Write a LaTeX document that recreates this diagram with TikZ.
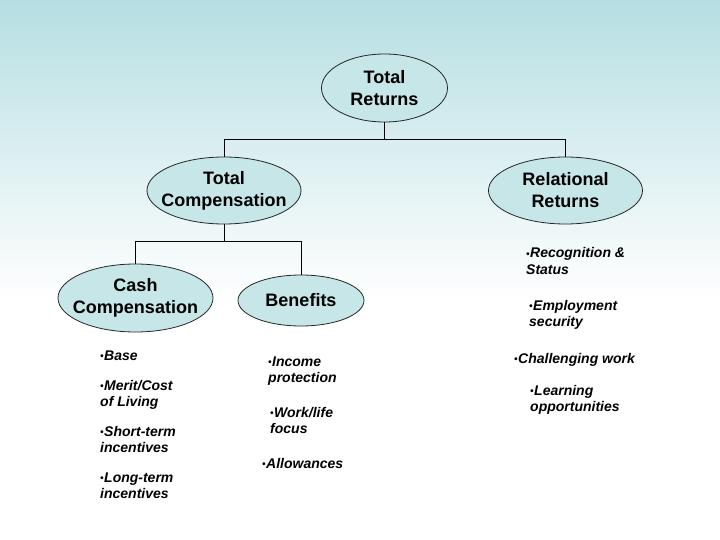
\documentclass[tikz,border=0pt]{standalone}
\usepackage{fontspec}
\setmainfont{Liberation Sans}
\usetikzlibrary{shapes.geometric}
\definecolor{bgtop}{RGB}{182,222,226}
\definecolor{ovalfill}{RGB}{198,230,232}
\newcommand{\itm}{\raisebox{0.8pt}{\fontsize{10}{10}\selectfont\textbullet}\kern0.5pt}
\newcommand{\itemlines}[1]{\begin{tabular}[t]{@{}l@{}}#1\end{tabular}}

\begin{document}
\begin{tikzpicture}[x=1pt,y=-1pt,
	oval/.style={draw=black!85,ellipse,fill=ovalfill,line width=0.8pt,inner xsep=-20pt,inner ysep=-6pt,font=\bfseries\fontsize{18}{22}\selectfont,align=center},
	items/.style={anchor=base west,inner sep=0pt,font=\bfseries\itshape\fontsize{14}{16.5}\selectfont},
	bus/.style={line width=0.8pt}]
			% background
			\useasboundingbox (0,0) rectangle (720,540);
			\shade[top color=bgtop,bottom color=white] (0,0) rectangle (720,300);
			\fill[white] (0,300) rectangle (720,540);
	
			\coordinate (tr) at (384.5,88);
			\coordinate (tc) at (224,190.5);
			\coordinate (rr) at (565.5,190.5);
			\coordinate (cc) at (135.5,298);
			\coordinate (bn) at (301,300.5);
	
			\node[oval,minimum width=126,minimum height=68] (TotalRet) at (tr) {Total\\Returns};
			\node[oval,minimum width=154,minimum height=67] (TotalComp) at (tc) {Total\\Compensation};
			\node[oval,minimum width=154,minimum height=67] (RelRet) at (rr) {Relational\\Returns};
			\node[oval,minimum width=155,minimum height=68] (CashComp) at (cc) {Cash\\Compensation};
			\node[oval,minimum width=126,minimum height=51] (Benefits) at (bn) {Benefits};
	
			\draw[bus] (TotalRet.south) -- ([shift={(0,17)}]TotalRet.south) coordinate (trbus);
			\draw[bus] (trbus) -| (TotalComp.north);
			\draw[bus] (trbus) -| (RelRet.north);
			\draw[bus] (TotalComp.south) -- ([shift={(0,17)}]TotalComp.south) coordinate (tcbus);
			\draw[bus] (tcbus) -| (CashComp.north);
			\draw[bus] (tcbus) -| (Benefits.north);
	
			% cash items
			\node[items] (Base) at (100,360) {\itemlines{\itm Base}};
			\node[items] (Merit) at (100,390) {\itemlines{\itm Merit/Cost\\of Living}};
			\node[items] (Short) at (100,436) {\itemlines{\itm Short-term\\incentives}};
			\node[items] (Long) at (100,482) {\itemlines{\itm Long-term\\incentives}};
			% benefit items
			\node[items] (Income) at (268,366) {\itemlines{\itm Income\\protection}};
			\node[items] (Work) at (270,417) {\itemlines{\itm Work/life\\focus}};
			\node[items] (Allow) at (262,468) {\itemlines{\itm Allowances}};
			% relational items
			\node[items] (Recog) at (526,258) {\itemlines{\itm Recognition \&\\Status}};
			\node[items] (Employ) at (529,310) {\itemlines{\itm Employment\\security}};
			\node[items] (Chall) at (514,363) {\itemlines{\itm Challenging work}};
			\node[items] (Learn) at (530,395) {\itemlines{\itm Learning\\opportunities}};
		\end{tikzpicture}
\end{document}
